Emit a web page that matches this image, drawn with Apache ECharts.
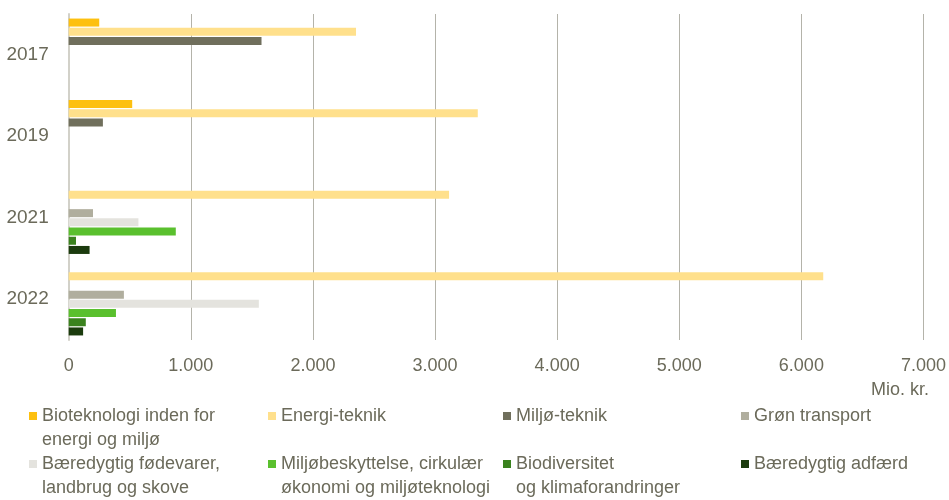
<!DOCTYPE html>
<html><head><meta charset="utf-8">
<script src="https://cdn.jsdelivr.net/npm/echarts@6/dist/echarts.min.js"></script>
<style>html,body{margin:0;padding:0;background:#fff}#c{width:949px;height:500px}</style>
</head><body><div id="c"></div>
<script>
var categories = ['2017', '2019', '2021', '2022'];
var seriesNames = ['Bioteknologi inden for energi og miljø', 'Energi-teknik', 'Miljø-teknik', 'Grøn transport', 'Bæredygtig fødevarer, landbrug og skove', 'Miljøbeskyttelse, cirkulær økonomi og miljøteknologi', 'Biodiversitet og klimaforandringer', 'Bæredygtig adfærd'];
var legendLabels = ['Bioteknologi inden for\nenergi og miljø', 'Energi-teknik', 'Miljø-teknik', 'Grøn transport', 'Bæredygtig fødevarer,\nlandbrug og skove', 'Miljøbeskyttelse, cirkulær\nøkonomi og miljøteknologi', 'Biodiversitet\nog klimaforandringer', 'Bæredygtig adfærd'];
var bioteknologi = [250, 520, 0, 0];
var energiTeknik = [2353, 3350, 3115, 6179];
var miljoTeknik = [1579, 280, 0, 0];
var gronTransport = [0, 0, 199, 452];
var foedevarer = [0, 0, 571, 1557];
var miljobeskyttelse = [0, 0, 877, 387];
var biodiversitet = [0, 0, 60, 140];
var adfaerd = [0, 0, 171, 118];
var xTicks = ['0', '1.000', '2.000', '3.000', '4.000', '5.000', '6.000', '7.000'];
var unitLabel = 'Mio. kr.';

var values = [bioteknologi, energiTeknik, miljoTeknik, gronTransport, foedevarer, miljobeskyttelse, biodiversitet, adfaerd];
var colors = ['#FDC010', '#FFE08C', '#706F5C', '#B0AE9E', '#E4E3DE', '#5AC02E', '#3A821E', '#1B3B0E'];
var textColor = '#6B6A5A';
var font = '"Liberation Sans", Arial, sans-serif';

var legendPos = [[29, 0, 0], [268, 0, 1], [503, 0, 2], [741, 0, 3], [29, 1, 4], [268, 1, 5], [503, 1, 6], [741, 1, 7]];
var rowCenters = [416, 464];
var L = 24.5;
var legends = legendPos.map(function (p) {
  var i = p[2];
  var two = legendLabels[i].indexOf('\n') >= 0;
  return {
    data: [seriesNames[i]],
    left: p[0],
    top: two ? rowCenters[p[1]] - 1.5 * L : rowCenters[p[1]] - L / 2,
    padding: 0,
    itemWidth: 8, itemHeight: 8, itemGap: 0,
    icon: 'rect',
    formatter: function () { return two ? '\n' + legendLabels[i] : legendLabels[i]; },
    selectedMode: false,
    textStyle: {color: textColor, fontSize: 18, fontFamily: font, lineHeight: L}
  };
});

var chart = echarts.init(document.getElementById('c'), null, {renderer: 'canvas'});
chart.setOption({
  animation: false,
  backgroundColor: '#fff',
  grid: {left: 68.7, right: 23.3, top: 14, bottom: 160, containLabel: false},
  legend: legends,
  xAxis: {
    type: 'value', min: 0, max: 7000, interval: 1000,
    axisLine: {show: false}, axisTick: {show: false},
    splitLine: {show: true, lineStyle: {color: '#B4B3AA', width: 1}},
    axisLabel: {
      color: textColor, fontSize: 18, fontFamily: font, margin: 17,
      formatter: function (v) { return xTicks[Math.round(v / 1000)]; }
    }
  },
  yAxis: {
    type: 'category', data: categories, inverse: true,
    axisLine: {show: true, lineStyle: {color: '#D2D1C9', width: 2}},
    axisTick: {show: false},
    axisLabel: {color: textColor, fontSize: 19, fontFamily: font, margin: 20}
  },
  graphic: [{
    type: 'text', right: 20, top: 381,
    style: {text: unitLabel, fill: textColor, font: '18px ' + font, textAlign: 'right'}
  }],
  series: values.map(function (d, i) {
    return {
      name: seriesNames[i], type: 'bar', data: d,
      barWidth: 8, barGap: '15%',
      itemStyle: {color: colors[i]}
    };
  })
});
</script></body></html>
